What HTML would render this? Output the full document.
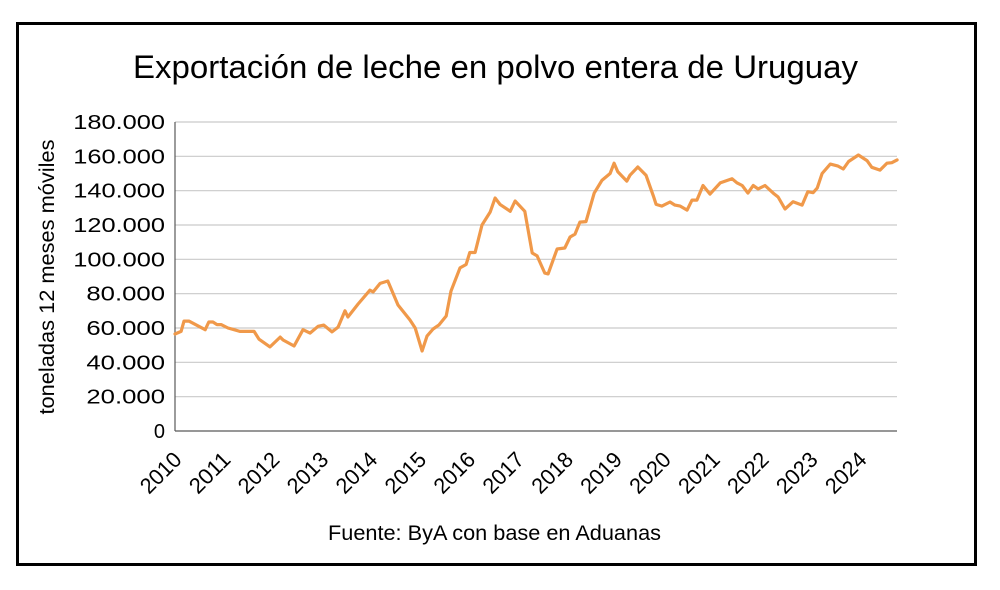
<!DOCTYPE html>
<html><head><meta charset="utf-8"><style>
body{margin:0;background:#fff;width:1000px;height:585px;overflow:hidden;font-family:"Liberation Sans",Calibri,sans-serif}
</style></head><body>
<svg width="1000" height="585" xmlns="http://www.w3.org/2000/svg">
<rect x="17.5" y="23.5" width="958" height="541" fill="#fff" stroke="#000" stroke-width="3"/>
<text x="133" y="78" textLength="725" lengthAdjust="spacingAndGlyphs" font-size="32" fill="#000">Exportación de leche en polvo entera de Uruguay</text>
<text transform="translate(54,277) rotate(-90)" text-anchor="middle" textLength="275" lengthAdjust="spacingAndGlyphs" font-size="21" fill="#000">toneladas 12 meses móviles</text>
<text x="328" y="540" textLength="333" lengthAdjust="spacingAndGlyphs" font-size="21" fill="#000">Fuente: ByA con base en Aduanas</text>
<g id="grid"></g><g id="yt"></g><g id="xt"></g><g id="series"></g>
</svg>
<script>
const yTicks=[0,20000,40000,60000,80000,100000,120000,140000,160000,180000];
const yTickLabels=["0","20.000","40.000","60.000","80.000","100.000","120.000","140.000","160.000","180.000"];
const years=[2010,2011,2012,2013,2014,2015,2016,2017,2018,2019,2020,2021,2022,2023,2024];
const months=[0,1.5,2.2,3.4,7.4,8.3,9.3,10.3,11.3,13,14.5,15.9,19.4,20.6,23.3,25.8,26.5,29.2,31.4,33.1,35.1,36.5,38.5,40,41.7,42.4,44.9,47.8,48.6,50.3,52.2,54.7,57.6,58.9,60.6,61.8,63.3,64.7,66.5,67.7,69.9,71.4,72.3,73.6,75.3,77.3,78.5,79.7,82.2,83.4,85.8,87.6,88.8,90.7,91.5,93.7,95.6,96.9,98.1,99.3,100.8,102.8,104.7,106.7,107.7,108.6,110.8,111.6,113.5,115.5,117.3,118,119.4,121.4,122.6,123.9,125.6,126.8,128,129.5,131.2,133.7,136.6,137.8,139.1,140.5,141.8,143,144.7,146.7,147.9,149.6,151.6,153.8,155.2,156.5,157.5,158.7,160.7,162.5,163.9,165.2,167.6,169.7,170.9,172.9,174.6,175.8,177.1];
const values=[56500,58000,64000,64000,59000,63500,63500,62000,62000,60000,59000,58000,58000,53500,49000,54700,53000,49500,59000,57000,61000,61700,57700,60500,70000,66400,74000,82000,81000,86000,87400,73400,64700,60000,46600,55300,59400,61700,67000,81500,95000,97000,104000,104000,120000,127600,135700,132000,128000,134000,128000,103700,102000,92000,91500,106000,106600,113000,114700,121700,122000,138600,146000,150000,156000,151000,145600,149000,153800,149000,137000,132000,131000,133400,131600,131000,128700,134500,134500,143000,138000,144500,147000,144600,143000,138600,143000,141000,143000,138600,136300,129300,133600,131600,139400,138800,141500,150000,155500,154400,152600,157000,160800,157500,153600,152000,156000,156300,157900];
const NS="http://www.w3.org/2000/svg";
const X0=175,X1=897,Y0=431,Y1=122;
const xs=m=>X0+m*(48.93/12);
const ys=v=>Y0-(v/180000)*(Y0-Y1);
function mk(t,a,p){const e=document.createElementNS(NS,t);for(const k in a)e.setAttribute(k,a[k]);document.getElementById(p).appendChild(e);return e;}
yTicks.forEach((v,i)=>{
 if(v>0){const g=mk('line',{x1:X0,x2:X1,y1:ys(v),y2:ys(v),stroke:'#c9c9c9','stroke-width':1.2},'grid');
 
 }
 const lab=yTickLabels[i];
 const at={x:165,y:ys(v)+7,'text-anchor':'end','font-size':20,fill:'#000'};
 if(lab.length>1){at.textLength=lab.length*13.1;at.lengthAdjust='spacingAndGlyphs';}
 const t=mk('text',at,'yt');t.textContent=lab;
 
 
});
const ax=mk('line',{x1:X0,x2:X0,y1:Y1,y2:Y0,stroke:'#595959','stroke-width':1.2},'grid');


const bx=mk('line',{x1:X0,x2:X1,y1:Y0,y2:Y0,stroke:'#595959','stroke-width':1.2},'grid');


years.forEach(y=>{
 const x=xs((y-2010)*12);
 const t=mk('text',{transform:`translate(${x+8},${Y0+30}) rotate(-45)`,'text-anchor':'end','font-size':22,textLength:48,lengthAdjust:'spacingAndGlyphs',fill:'#000'},'xt');t.textContent=y;
 
 
});
const d=months.map((m,i)=>(i?'L':'M')+xs(m).toFixed(1)+' '+ys(values[i]).toFixed(1)).join(' ');
const p=mk('path',{d:d,fill:'none',stroke:'#f0994a','stroke-width':3.2,'stroke-linejoin':'round','stroke-linecap':'round'},'series');


</script>
</body></html>
